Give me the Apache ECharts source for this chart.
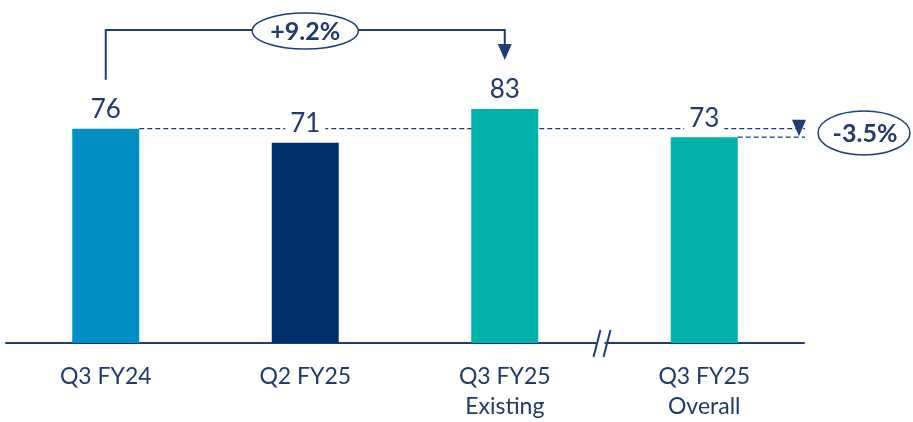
<!DOCTYPE html>
<html><head><meta charset="utf-8">
<script src="https://cdn.jsdelivr.net/npm/echarts@6/dist/echarts.min.js"></script>
<style>html,body{margin:0;padding:0;background:#fff}#c{width:913px;height:422px}</style>
</head><body><div id="c"></div>
<script>
var categories = ['Q3 FY24', 'Q2 FY25', 'Q3 FY25\nExisting', 'Q3 FY25\nOverall'];
var values = [76, 71, 83, 73];
var barColors = ['#0090C6', '#00306B', '#00B2A9', '#00B2A9'];
var changeLabels = ['+9.2%', '-3.5%'];

var NAVY = '#1F3A6B';
var LINE = '#1E3D78';
var FONT = 'Lato';

var chart = echarts.init(document.getElementById('c'));
var option = {
  animation: false,
  grid: {left: 6, right: 109, top: 61, bottom: 79},
  xAxis: {
    type: 'category', data: categories,
    axisLine: {lineStyle: {color: LINE, width: 2}},
    axisTick: {show: false},
    axisLabel: {color: NAVY, fontSize: 23, fontFamily: FONT, margin: 19, lineHeight: 30}
  },
  yAxis: {type: 'value', min: 0, max: 100, show: false},
  series: [{
    type: 'bar', barWidth: 67, z: 3,
    data: values.map(function(v, i){ return {value: v, itemStyle: {color: barColors[i]}}; }),
    label: {show: true, position: 'top', distance: 6, color: NAVY, fontSize: 26, fontFamily: FONT,
      backgroundColor: '#fff', padding: [0, 5, 0, 5]}
  }]
};
chart.setOption(option);

function px(i, v){ return chart.convertToPixel({seriesIndex: 0}, [i, v]); }
var p0 = px(0, values[0]), p1 = px(1, values[1]), p2 = px(2, values[2]), p3 = px(3, values[3]);
var half = 33.5;
var rightEnd = 805;
var base = px(0, 0);
var topY = 30;
var midX = (p0[0] + p2[0]) / 2;
var breakX = (p2[0] + p3[0]) / 2 - 6;
var rcy = (p0[1] + p3[1]) / 2;

var g = [
  // top bracket
  {type: 'polyline', z: 1, shape: {points: [[p0[0], p0[1] - 49], [p0[0], topY], [p2[0], topY], [p2[0], topY + 16]]},
   style: {stroke: LINE, lineWidth: 2, fill: null}},
  {type: 'polygon', z: 1, shape: {points: [[p2[0] - 7, topY + 14], [p2[0] + 7, topY + 14], [p2[0], topY + 30]]},
   style: {fill: LINE}},
  {type: 'ellipse', z: 5, shape: {cx: midX, cy: topY + 1, rx: 53, ry: 18},
   style: {fill: '#fff', stroke: LINE, lineWidth: 1.5}},
  {type: 'text', z: 6, x: midX, y: topY + 2,
   style: {text: changeLabels[0], fill: NAVY, font: 'bold 25px ' + FONT, align: 'center', verticalAlign: 'middle'}},
  // dashed reference lines
  {type: 'line', z: 1, shape: {x1: p0[0] + half, y1: p0[1], x2: rightEnd, y2: p0[1]},
   style: {stroke: LINE, lineWidth: 1.2, lineDash: [5, 3]}},
  {type: 'line', z: 1, shape: {x1: p3[0] + half, y1: p3[1], x2: rightEnd, y2: p3[1]},
   style: {stroke: LINE, lineWidth: 1.2, lineDash: [5, 3]}},
  {type: 'polygon', z: 2, shape: {points: [[rightEnd - 13, p0[1] - 9], [rightEnd + 1, p0[1] - 9], [rightEnd - 6, p3[1] - 1]]},
   style: {fill: LINE}},
  {type: 'ellipse', z: 5, shape: {cx: 864, cy: rcy, rx: 46, ry: 22},
   style: {fill: '#fff', stroke: LINE, lineWidth: 1.5}},
  {type: 'text', z: 6, x: 865, y: rcy + 1,
   style: {text: changeLabels[1], fill: NAVY, font: 'bold 25px ' + FONT, align: 'center', verticalAlign: 'middle'}},
  // axis break
  {type: 'rect', z: 5, shape: {x: breakX - 2, y: base[1] - 3, width: 8, height: 6}, style: {fill: '#fff'}},
  {type: 'line', z: 6, shape: {x1: breakX - 5, y1: base[1] + 14, x2: breakX + 2, y2: base[1] - 13},
   style: {stroke: LINE, lineWidth: 2}},
  {type: 'line', z: 6, shape: {x1: breakX + 5, y1: base[1] + 14, x2: breakX + 12, y2: base[1] - 13},
   style: {stroke: LINE, lineWidth: 2}}
];
chart.setOption({graphic: g});
</script></body></html>
